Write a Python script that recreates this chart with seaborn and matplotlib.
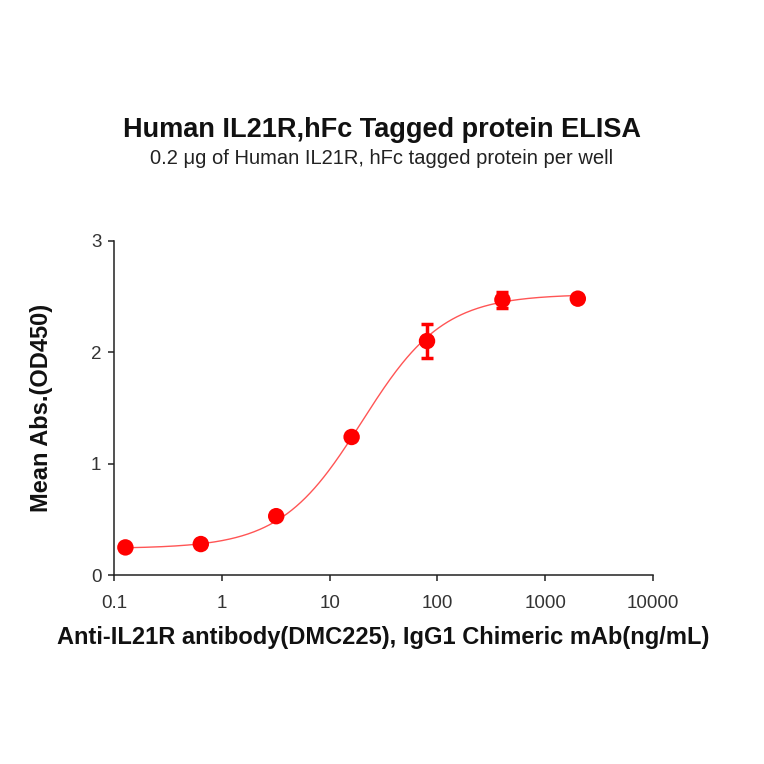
import numpy as np
import pandas as pd
import seaborn as sns
import matplotlib
matplotlib.use("Agg")
import matplotlib.pyplot as plt
from matplotlib.ticker import FixedLocator, FixedFormatter, NullLocator

# measured points (ng/mL, OD450)
conc = [0.128, 0.64, 3.2, 16, 80, 400, 2000]
od450 = [0.25, 0.28, 0.53, 1.24, 2.10, 2.47, 2.48]
od_err = [0.0, 0.0, 0.0, 0.0, 0.15, 0.07, 0.0]

# 4PL fit parameters
fit_bottom = 0.24
fit_top = 2.52
fit_ec50 = 20.0
fit_hill = 1.15

x_ticks = [0.1, 1, 10, 100, 1000, 10000]
x_tick_labels = ["0.1", "1", "10", "100", "1000", "10000"]
y_ticks = [0, 1, 2, 3]

sns.set_style("white")
plt.rcParams['font.family'] = ['Liberation Sans', 'DejaVu Sans']

points = pd.DataFrame({"conc": conc, "od": od450, "err": od_err})
xs = np.logspace(np.log10(conc[0]), np.log10(conc[-1]), 300)
curve = pd.DataFrame({
    "conc": xs,
    "od": fit_bottom + (fit_top - fit_bottom) / (1 + (fit_ec50 / xs) ** fit_hill),
})

fig = plt.figure(figsize=(7.64, 7.64), dpi=100)
ax = fig.add_axes([0.149, 0.247, 0.706, 0.438])

sns.lineplot(data=curve, x="conc", y="od", ax=ax, color="#FF5555", linewidth=1.0)
ax.errorbar(points["conc"], points["od"], yerr=points["err"], fmt="none",
            ecolor="#FF0000", elinewidth=2.5, capsize=4.5, capthick=2.5, zorder=3)
sns.scatterplot(data=points, x="conc", y="od", ax=ax, color="#FF0000", s=140,
                edgecolor="none", zorder=4)

ax.set_xscale("log")
ax.set_xlim(0.1, 10000)
ax.set_ylim(0, 3)
ax.xaxis.set_major_locator(FixedLocator(x_ticks))
ax.xaxis.set_major_formatter(FixedFormatter(x_tick_labels))
ax.xaxis.set_minor_locator(NullLocator())
ax.set_yticks(y_ticks)

for side in ["top", "right"]:
    ax.spines[side].set_visible(False)
for side in ["left", "bottom"]:
    ax.spines[side].set_color("#222222")
    ax.spines[side].set_linewidth(1.1)
ax.tick_params(axis="both", direction="out", length=4, width=1.1, color="#222222",
               labelsize=13.5, labelcolor="#333333", left=True, bottom=True, pad=5)
ax.tick_params(axis="x", pad=10)

ax.set_xlabel("Anti-IL21R antibody(DMC225), IgG1 Chimeric mAb(ng/mL)",
              fontsize=17, fontweight="bold", color="#111111")
ax.set_ylabel("Mean Abs.(OD450)", fontsize=17, fontweight="bold", color="#111111")
ax.xaxis.set_label_coords(0.5, -0.152)
ax.yaxis.set_label_coords(-0.112, 0.5)

fig.text(0.5, 0.830, "Human IL21R,hFc Tagged protein ELISA", ha="center",
         va="center", fontsize=19.5, fontweight="bold", color="#111111")
fig.text(0.5, 0.793, "0.2 \u03bcg of Human IL21R, hFc tagged protein per well",
         ha="center", va="center", fontsize=14.5, color="#222222")

fig.savefig("out.png", dpi=100, facecolor="white")
